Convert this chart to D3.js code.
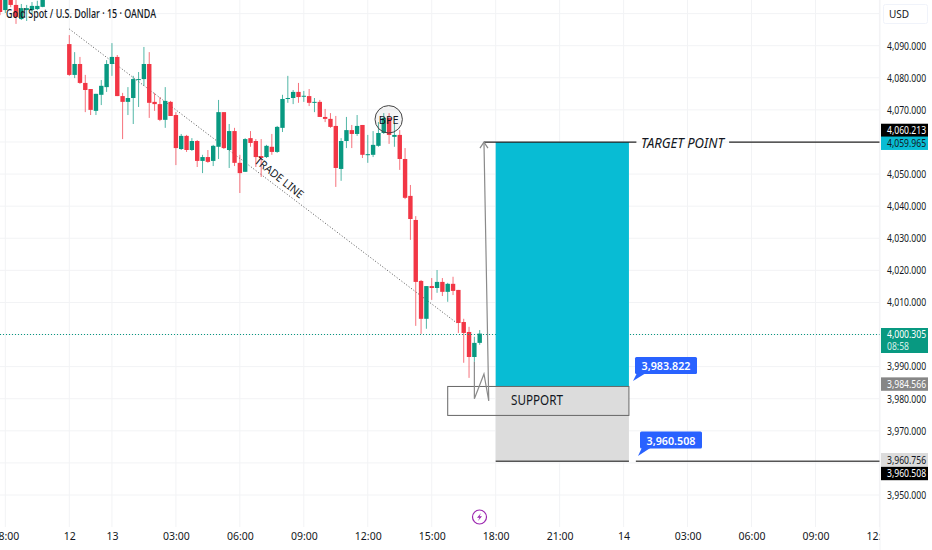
<!DOCTYPE html>
<html>
<head>
<meta charset="utf-8">
<script src="https://cdn.jsdelivr.net/npm/d3@7"></script>
<style>
    html, body { margin: 0; background: #fff; }
    text { font-family: "Noto Sans", sans-serif; fill: #131722; }
</style>
</head>
<body>
<svg width="932" height="550"></svg>
<script>
const svg = d3.select("svg");

const firstBar = -13;
const opens = [4106, 4101.1, 4105.2, 4102.7, 4098.3, 4101.1, 4101.1, 4101.4, 4102.1];
const highs = [4108, 4107, 4107, 4104.5, 4103, 4102.7, 4103.6, 4104, 4106];
const lows = [4099.5, 4100.2, 4102, 4096.8, 4098, 4097.7, 4099.9, 4101.1, 4102];
const closes = [4100.5, 4105, 4102.7, 4098.9, 4101.7, 4101.7, 4102.4, 4102.4, 4104.6];

const barOpens = [4090.5, 4080.9, 4084.3, 4078.4, 4076.5, 4069.7, 4074.7, 4077.1, 4084.3, 4086.5, 4074.3, 4072.5, 4073.7, 4079.3, 4079.6, 4084.3, 4072.5, 4071.8, 4066.9, 4072.5,
    4068.4, 4057.8, 4061.9, 4057.5, 4060.3, 4054.1, 4055.3, 4054.1, 4058.5, 4069.3, 4057.5, 4063.4, 4053.5, 4050.7, 4061.2, 4060.3, 4055.6, 4055.3, 4058.5, 4056.9,
    4064.4, 4073.4, 4073.7, 4075.6, 4074.3, 4074.3, 4072.2, 4072.5, 4067.8, 4067.2, 4065.0, 4051.6, 4060.3, 4063.7, 4062.5, 4065.3, 4056.0, 4056.0, 4058.8, 4062.8,
    4067.5, 4061.6, 4062.2, 4054.7, 4043.2, 4035.7, 4016.7, 4004.9, 4015.1, 4014.5, 4016.4, 4013.3, 4015.8, 4013.9, 4003.9, 4000.8, 3993.0, 3997.4];
const barHighs = [4093.3, 4088.0, 4086.5, 4080.9, 4076.5, 4075.0, 4079.3, 4085.5, 4090.8, 4087.1, 4075.3, 4077.1, 4080.6, 4081.8, 4089.6, 4088.0, 4075.3, 4074.0, 4077.1, 4072.8,
    4069.3, 4062.5, 4062.2, 4061.2, 4060.6, 4056.0, 4057.5, 4059.1, 4073.1, 4069.3, 4065.6, 4064.4, 4056.0, 4061.2, 4063.4, 4060.9, 4060.9, 4059.1, 4062.5, 4065.0,
    4074.7, 4080.6, 4076.2, 4078.4, 4075.9, 4076.5, 4073.7, 4073.1, 4070.3, 4069.0, 4068.1, 4061.2, 4067.8, 4065.3, 4068.4, 4065.3, 4062.2, 4063.4, 4066.2, 4069.0,
    4069.0, 4065.6, 4063.7, 4058.1, 4046.6, 4036.9, 4017.0, 4015.1, 4017.6, 4020.1, 4017.6, 4016.1, 4018.0, 4013.9, 4004.9, 4002.4, 3999.3, 4001.4];
const barLows = [4080.6, 4079.9, 4078.1, 4069.3, 4068.4, 4068.4, 4071.5, 4075.6, 4080.6, 4074.3, 4060.9, 4068.4, 4065.6, 4070.9, 4077.5, 4067.5, 4069.7, 4066.5, 4064.4, 4068.1,
    4052.8, 4057.5, 4056.9, 4057.2, 4052.2, 4050.3, 4053.5, 4052.5, 4054.7, 4057.8, 4051.9, 4052.5, 4044.1, 4050.7, 4058.5, 4052.2, 4049.1, 4055.0, 4056.0, 4056.6,
    4063.1, 4072.2, 4071.8, 4072.2, 4072.5, 4071.2, 4069.3, 4067.8, 4066.2, 4064.4, 4046.0, 4047.9, 4058.1, 4058.1, 4061.9, 4055.0, 4053.5, 4055.3, 4058.5, 4062.5,
    4059.4, 4058.5, 4051.3, 4042.2, 4029.5, 4002.7, 4000.2, 4001.8, 4010.8, 4013.0, 4012.0, 4010.2, 4012.3, 4000.5, 3991.2, 3986.5, 3991.5, 3996.8];
const barCloses = [4080.9, 4084.3, 4078.4, 4076.2, 4070.0, 4075.0, 4077.5, 4084.3, 4086.5, 4074.3, 4072.5, 4073.7, 4079.6, 4079.6, 4084.3, 4072.2, 4071.8, 4066.9, 4072.8, 4068.1,
    4058.1, 4061.9, 4057.5, 4060.3, 4054.1, 4055.3, 4053.8, 4058.8, 4069.3, 4058.1, 4063.4, 4053.5, 4050.3, 4060.9, 4059.7, 4055.3, 4055.0, 4058.8, 4056.9, 4064.7,
    4073.4, 4073.7, 4075.6, 4074.0, 4074.4, 4072.2, 4072.5, 4067.8, 4067.2, 4064.7, 4051.9, 4060.3, 4063.7, 4062.5, 4065.0, 4056.0, 4056.2, 4059.1, 4062.8, 4067.5,
    4062.2, 4062.2, 4054.7, 4042.6, 4036.0, 4016.4, 4004.9, 4015.1, 4014.5, 4016.4, 4013.3, 4015.8, 4013.6, 4003.6, 4000.5, 3993.0, 3997.4, 4000.3];

const priceTicks = [4100, 4090, 4080, 4070, 4060, 4050, 4040, 4030, 4020, 4010, 4000, 3990, 3980, 3970, 3960, 3950];
const hiddenPriceLabels = [4100, 4060, 3960, 4000];
const timeTicks = [-12, 0, 8, 20, 32, 44, 56, 68, 80, 92, 104, 116, 128, 140, 152];
const timeLabels = ["18:00", "12", "13", "03:00", "06:00", "09:00", "12:00", "15:00", "18:00", "21:00", "14", "03:00", "06:00", "09:00", "12:00"];

const lastPrice = 4000.305;
const targetPrice = 4059.965;
const entryPrice = 3983.822;
const stopPrice = 3960.508;
const zoneStart = 80;
const zoneEnd = 105;
const tradeLineBars = [0, 72.7];
const tradeLinePrices = [4095.2, 4003.6];
const arrowBars = [76, 76, 77.8, 78.7, 77.8];
const arrowPrices = [3991.5, 3980, 3987.7, 3979.3, targetPrice];

const axisTags = [
    { label: "4,060.213", price: 4063.6, fill: "#000", color: "#fff" },
    { label: "4,059.965", price: 4059.6, fill: "#08bcd4", color: "#131722" },
    { label: "3,984.566", price: 3984.566, fill: "#868686", color: "#fff" },
    { label: "3,960.756", price: 3961, fill: "#dcdcdc", color: "#131722" },
    { label: "3,960.508", price: 3956.7, fill: "#000", color: "#fff" }
];

const x = d3.scaleLinear().domain([0, 104]).range([69.3, 623.6]);
const y = d3.scaleLinear().domain([4090, 3950]).range([45.7, 495]);

const red = "#f23645";
const green = "#089981";
const paneWidth = 880;
const labelSqueeze = 0.82;

svg.append("defs").append("clipPath").attr("id", "pane")
    .append("rect").attr("width", paneWidth).attr("height", 550);

const pane = svg.append("g").attr("clip-path", "url(#pane)");

// grid
pane.selectAll(".hgrid").data(priceTicks).join("line")
    .attr("x1", 0).attr("x2", paneWidth)
    .attr("y1", d => y(d)).attr("y2", d => y(d))
    .style("stroke", "#f2f3f5");
pane.selectAll(".vgrid").data(timeTicks).join("line")
    .attr("x1", d => x(d)).attr("x2", d => x(d))
    .attr("y1", 0).attr("y2", 527)
    .style("stroke", "#f2f3f5");
svg.append("line").attr("x1", paneWidth).attr("x2", paneWidth).attr("y1", 0).attr("y2", 550)
    .style("stroke", "#f2f3f5");

// candles
const earlyBars = opens.map((o, i) => ({ i: firstBar + i, o, h: highs[i], l: lows[i], c: closes[i] }));
const laterBars = barOpens.map((o, i) => ({ i, o, h: barHighs[i], l: barLows[i], c: barCloses[i] }));
const bars = earlyBars.concat(laterBars);

function barColor(d) {
    return d.c >= d.o ? green : red;
}

pane.append("path")
    .attr("d", d3.line().x(d => x(d[0])).y(d => y(d[1]))([[tradeLineBars[0], tradeLinePrices[0]], [tradeLineBars[1], tradeLinePrices[1]]]))
    .style("fill", "none")
    .style("stroke", "#555")
    .style("stroke-dasharray", "1 2");

pane.selectAll(".wick").data(bars).join("line")
    .attr("x1", d => x(d.i)).attr("x2", d => x(d.i))
    .attr("y1", d => y(d.h)).attr("y2", d => y(d.l))
    .style("stroke", barColor)
    .style("stroke-opacity", 0.7);

pane.selectAll(".body").data(bars).join("rect")
    .attr("x", d => x(d.i) - 2.2)
    .attr("width", 4.4)
    .attr("y", d => y(Math.max(d.o, d.c)))
    .attr("height", d => Math.max(1, Math.abs(y(d.o) - y(d.c))))
    .style("fill", barColor);

pane.append("line")
    .attr("x1", 0).attr("x2", paneWidth)
    .attr("y1", Math.round(y(lastPrice)) + 0.5).attr("y2", Math.round(y(lastPrice)) + 0.5)
    .style("stroke", green)
    .style("stroke-dasharray", "1 2");

// long position zone
pane.append("rect")
    .attr("x", x(zoneStart)).attr("width", x(zoneEnd) - x(zoneStart))
    .attr("y", y(targetPrice)).attr("height", y(entryPrice) - y(targetPrice))
    .style("fill", "#08bcd4");
pane.append("rect")
    .attr("x", x(zoneStart)).attr("width", x(zoneEnd) - x(zoneStart))
    .attr("y", y(entryPrice)).attr("height", y(stopPrice) - y(entryPrice))
    .style("fill", "#dcdcdc");

pane.append("line")
    .attr("x1", x(77.8)).attr("x2", x(106.4))
    .attr("y1", y(targetPrice)).attr("y2", y(targetPrice))
    .style("stroke", "#222").style("stroke-width", 1.2);
pane.append("line")
    .attr("x1", x(123.8)).attr("x2", paneWidth)
    .attr("y1", y(targetPrice)).attr("y2", y(targetPrice))
    .style("stroke", "#222").style("stroke-width", 1.2);
pane.append("line")
    .attr("x1", x(zoneStart)).attr("x2", x(zoneEnd))
    .attr("y1", y(stopPrice)).attr("y2", y(stopPrice))
    .style("stroke", "#555").style("stroke-width", 1.5);
pane.append("line")
    .attr("x1", x(106.3)).attr("x2", paneWidth)
    .attr("y1", y(stopPrice)).attr("y2", y(stopPrice))
    .style("stroke", "#555").style("stroke-width", 1.5);

// support box
pane.append("rect")
    .attr("x", x(71)).attr("width", x(zoneEnd) - x(71))
    .attr("y", y(entryPrice)).attr("height", y(3974.8) - y(entryPrice))
    .style("fill", "none")
    .style("stroke", "#666");
pane.append("text")
    .attr("x", 537).attr("y", 399.5)
    .attr("text-anchor", "middle").attr("dominant-baseline", "central")
    .attr("textLength", 52).attr("lengthAdjust", "spacingAndGlyphs")
    .style("font-size", "14px")
    .text("SUPPORT");

// arrow drawn on the chart
const arrowPoints = arrowBars.map((b, i) => [x(b), y(arrowPrices[i])]);
pane.append("path")
    .attr("d", d3.line()(arrowPoints))
    .style("fill", "none").style("stroke", "#8a8a8a").style("stroke-width", 1.2);
const tip = arrowPoints[arrowPoints.length - 1];
pane.append("path")
    .attr("d", `M${tip[0] - 4},${tip[1] + 6}L${tip[0]},${tip[1]}L${tip[0] + 4},${tip[1] + 6}`)
    .style("fill", "none").style("stroke", "#8a8a8a").style("stroke-width", 1.2);

// annotations
pane.append("circle")
    .attr("cx", 388.7).attr("cy", 119.3).attr("r", 13.7)
    .style("fill", "rgba(120,120,120,0.08)")
    .style("stroke", "#444");
pane.append("text")
    .attr("x", 388.7).attr("y", 119.5)
    .attr("text-anchor", "middle").attr("dominant-baseline", "central")
    .style("font-size", "11px")
    .text("BPE");
pane.append("text")
    .attr("transform", "translate(279.7,177) rotate(38.5)")
    .attr("text-anchor", "middle").attr("dominant-baseline", "central")
    .attr("textLength", 59).attr("lengthAdjust", "spacingAndGlyphs")
    .style("font-size", "11px")
    .text("TRADE LINE");
pane.append("text")
    .attr("x", 641).attr("y", y(targetPrice))
    .attr("dominant-baseline", "central")
    .attr("textLength", 83).attr("lengthAdjust", "spacingAndGlyphs")
    .style("font-size", "14.5px").style("font-style", "italic")
    .text("TARGET POINT");

// price callouts
[[entryPrice, "3,983.822", 635, 357, 633, 381], [stopPrice, "3,960.508", 640, 431.5, 638, 456]].forEach(c => {
    const g = svg.append("g");
    g.append("path")
        .attr("d", `M${c[2] + 2},${c[3] + 16}L${c[4]},${c[5]}L${c[2] + 11},${c[3] + 16}Z`)
        .style("fill", "#2962ff");
    g.append("rect")
        .attr("x", c[2]).attr("y", c[3]).attr("width", 62).attr("height", 17).attr("rx", 1.5)
        .style("fill", "#2962ff");
    g.append("text")
        .attr("x", c[2] + 31).attr("y", c[3] + 8.5)
        .attr("text-anchor", "middle").attr("dominant-baseline", "central")
        .attr("textLength", 49).attr("lengthAdjust", "spacingAndGlyphs")
        .style("font-size", "11px").style("font-weight", 600).style("fill", "#fff")
        .text(c[1]);
});

// lightning marker
const bolt = svg.append("g").attr("transform", "translate(479.5,517)");
bolt.append("circle").attr("r", 7).style("fill", "#fff").style("stroke", "#9c27b0").style("stroke-width", 1.2);
bolt.append("path").attr("d", "M1.5,-4L-2.5,0.8H0L-1.5,4L2.5,-0.8H0Z").style("fill", "#9c27b0");

// axes
const yAxis = d3.axisRight(y)
    .tickValues(priceTicks.filter(d => !hiddenPriceLabels.includes(d)))
    .tickSize(0)
    .tickPadding(0)
    .tickFormat(d3.format(",.3f"));
svg.append("g").attr("transform", "translate(887,0)").call(yAxis)
    .call(g => g.select(".domain").remove())
    .call(g => g.selectAll("text")
        .attr("x", 0)
        .attr("transform", `scale(${labelSqueeze},1)`)
        .style("font-size", "10.5px").style("font-family", "'Noto Sans', sans-serif").style("fill", "#131722"));

const xAxis = d3.axisBottom(x)
    .tickValues(timeTicks)
    .tickSize(0)
    .tickPadding(0)
    .tickFormat((d, i) => timeLabels[i]);
pane.append("g").attr("transform", "translate(0,533)").call(xAxis)
    .call(g => g.select(".domain").remove())
    .call(g => g.selectAll("text")
        .style("font-size", "10.5px").style("font-family", "'Noto Sans', sans-serif").style("fill", "#131722"));

// axis tags
function tagText(label, textY, color) {
    svg.append("text")
        .attr("transform", `translate(887,${textY}) scale(${labelSqueeze},1)`)
        .attr("dominant-baseline", "central")
        .style("font-size", "10.5px").style("fill", color)
        .text(label);
}

axisTags.forEach(t => {
    svg.append("rect")
        .attr("x", 881).attr("width", 47)
        .attr("y", y(t.price) - 6.7).attr("height", 13.4)
        .style("fill", t.fill);
    tagText(t.label, y(t.price), t.color);
});
svg.append("rect")
    .attr("x", 881).attr("y", 328).attr("width", 47).attr("height", 25)
    .style("fill", green);
tagText("4,000.305", 334.5, "#fff");
tagText("08:58", 346, "#d5f0ea");

svg.append("rect")
    .attr("x", 883.5).attr("y", 4.5).attr("width", 44).attr("height", 19).attr("rx", 2)
    .style("fill", "#fff").style("stroke", "#f0f3fa");
svg.append("text")
    .attr("x", 889).attr("y", 14)
    .attr("dominant-baseline", "central")
    .style("font-size", "10px")
    .text("USD");

svg.append("text")
    .attr("x", 6).attr("y", 13)
    .attr("dominant-baseline", "central")
    .attr("textLength", 150).attr("lengthAdjust", "spacingAndGlyphs")
    .style("font-size", "12.5px").style("font-weight", 500)
    .text("Gold Spot / U.S. Dollar · 15 · OANDA");
</script>
</body>
</html>
